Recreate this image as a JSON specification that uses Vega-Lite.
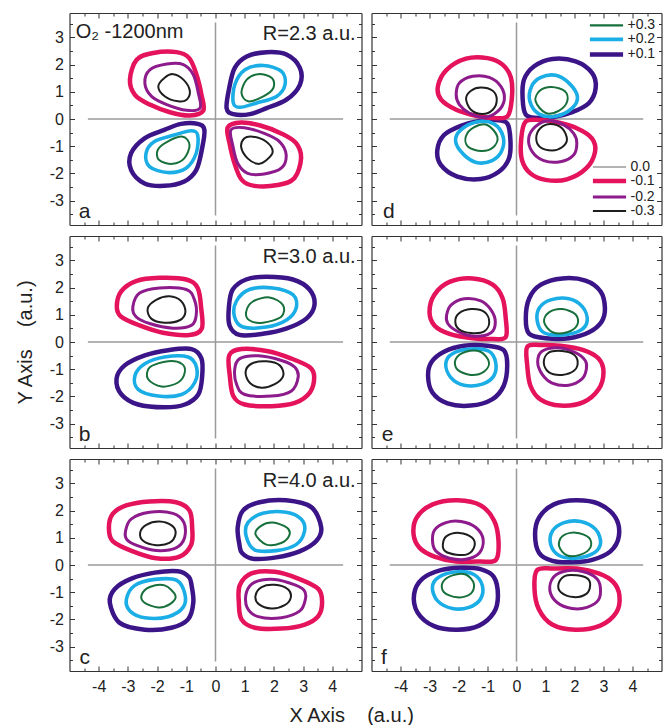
{
"$schema":"https://vega.github.io/schema/vega-lite/v6.json",
"background":"white",
"padding":{"left":14.5,"top":12,"right":1,"bottom":2},
"bounds":"flush",
"columns":2,
"spacing":{"row":11,"column":10},
"title":{"text":"X Axis\u00a0\u00a0\u00a0\u00a0(a.u.)","orient":"bottom","anchor":"middle","fontSize":20,"fontWeight":"normal","color":"#222","offset":9,"dx":13},
"datasets":{
"pos":[
{"p":"a","k":1,"l":"+0.1","x":0.38,"y":0.40},{"p":"a","k":1,"l":"+0.1","x":0.47,"y":1.14},{"p":"a","k":1,"l":"+0.1","x":0.66,"y":1.88},{"p":"a","k":1,"l":"+0.1","x":1.07,"y":2.30},{"p":"a","k":1,"l":"+0.1","x":1.75,"y":2.46},{"p":"a","k":1,"l":"+0.1","x":2.43,"y":2.37},{"p":"a","k":1,"l":"+0.1","x":2.89,"y":1.88},{"p":"a","k":1,"l":"+0.1","x":2.89,"y":1.26},{"p":"a","k":1,"l":"+0.1","x":2.43,"y":0.71},{"p":"a","k":1,"l":"+0.1","x":1.75,"y":0.40},{"p":"a","k":1,"l":"+0.1","x":1.18,"y":0.18},{"p":"a","k":1,"l":"+0.1","x":0.61,"y":0.18},
{"p":"a","k":2,"l":"+0.2","x":0.61,"y":0.59},{"p":"a","k":2,"l":"+0.2","x":0.66,"y":1.26},{"p":"a","k":2,"l":"+0.2","x":1.01,"y":1.81},{"p":"a","k":2,"l":"+0.2","x":1.64,"y":1.97},{"p":"a","k":2,"l":"+0.2","x":2.26,"y":1.75},{"p":"a","k":2,"l":"+0.2","x":2.38,"y":1.26},{"p":"a","k":2,"l":"+0.2","x":2.09,"y":0.83},{"p":"a","k":2,"l":"+0.2","x":1.41,"y":0.59},{"p":"a","k":2,"l":"+0.2","x":0.84,"y":0.43},
{"p":"a","k":3,"l":"+0.3","x":0.89,"y":0.96},{"p":"a","k":3,"l":"+0.3","x":1.07,"y":1.45},{"p":"a","k":3,"l":"+0.3","x":1.47,"y":1.65},{"p":"a","k":3,"l":"+0.3","x":1.93,"y":1.51},{"p":"a","k":3,"l":"+0.3","x":1.98,"y":1.14},{"p":"a","k":3,"l":"+0.3","x":1.64,"y":0.83},{"p":"a","k":3,"l":"+0.3","x":1.12,"y":0.65},
{"p":"a","k":4,"l":"+0.1","x":-0.38,"y":-0.40},{"p":"a","k":4,"l":"+0.1","x":-0.47,"y":-1.14},{"p":"a","k":4,"l":"+0.1","x":-0.66,"y":-1.88},{"p":"a","k":4,"l":"+0.1","x":-1.07,"y":-2.30},{"p":"a","k":4,"l":"+0.1","x":-1.75,"y":-2.46},{"p":"a","k":4,"l":"+0.1","x":-2.43,"y":-2.37},{"p":"a","k":4,"l":"+0.1","x":-2.89,"y":-1.88},{"p":"a","k":4,"l":"+0.1","x":-2.89,"y":-1.26},{"p":"a","k":4,"l":"+0.1","x":-2.43,"y":-0.71},{"p":"a","k":4,"l":"+0.1","x":-1.75,"y":-0.40},{"p":"a","k":4,"l":"+0.1","x":-1.18,"y":-0.18},{"p":"a","k":4,"l":"+0.1","x":-0.61,"y":-0.18},
{"p":"a","k":5,"l":"+0.2","x":-0.61,"y":-0.59},{"p":"a","k":5,"l":"+0.2","x":-0.66,"y":-1.26},{"p":"a","k":5,"l":"+0.2","x":-1.01,"y":-1.81},{"p":"a","k":5,"l":"+0.2","x":-1.64,"y":-1.97},{"p":"a","k":5,"l":"+0.2","x":-2.26,"y":-1.75},{"p":"a","k":5,"l":"+0.2","x":-2.38,"y":-1.26},{"p":"a","k":5,"l":"+0.2","x":-2.09,"y":-0.83},{"p":"a","k":5,"l":"+0.2","x":-1.41,"y":-0.59},{"p":"a","k":5,"l":"+0.2","x":-0.84,"y":-0.43},
{"p":"a","k":6,"l":"+0.3","x":-0.89,"y":-0.96},{"p":"a","k":6,"l":"+0.3","x":-1.07,"y":-1.45},{"p":"a","k":6,"l":"+0.3","x":-1.47,"y":-1.65},{"p":"a","k":6,"l":"+0.3","x":-1.93,"y":-1.51},{"p":"a","k":6,"l":"+0.3","x":-1.98,"y":-1.14},{"p":"a","k":6,"l":"+0.3","x":-1.64,"y":-0.83},{"p":"a","k":6,"l":"+0.3","x":-1.12,"y":-0.65},
{"p":"d","k":1,"l":"+0.1","x":0.32,"y":0.16},{"p":"d","k":1,"l":"+0.1","x":0.21,"y":0.77},{"p":"d","k":1,"l":"+0.1","x":0.26,"y":1.45},{"p":"d","k":1,"l":"+0.1","x":0.61,"y":1.94},{"p":"d","k":1,"l":"+0.1","x":1.24,"y":2.21},{"p":"d","k":1,"l":"+0.1","x":2.04,"y":2.12},{"p":"d","k":1,"l":"+0.1","x":2.61,"y":1.69},{"p":"d","k":1,"l":"+0.1","x":2.73,"y":1.14},{"p":"d","k":1,"l":"+0.1","x":2.50,"y":0.59},{"p":"d","k":1,"l":"+0.1","x":1.92,"y":0.25},{"p":"d","k":1,"l":"+0.1","x":1.24,"y":0.06},{"p":"d","k":1,"l":"+0.1","x":0.72,"y":0.04},
{"p":"d","k":2,"l":"+0.2","x":0.46,"y":0.65},{"p":"d","k":2,"l":"+0.2","x":0.52,"y":1.20},{"p":"d","k":2,"l":"+0.2","x":0.84,"y":1.53},{"p":"d","k":2,"l":"+0.2","x":1.35,"y":1.61},{"p":"d","k":2,"l":"+0.2","x":1.81,"y":1.32},{"p":"d","k":2,"l":"+0.2","x":2.10,"y":0.83},{"p":"d","k":2,"l":"+0.2","x":1.92,"y":0.40},{"p":"d","k":2,"l":"+0.2","x":1.35,"y":0.10},{"p":"d","k":2,"l":"+0.2","x":0.78,"y":0.18},
{"p":"d","k":3,"l":"+0.3","x":0.66,"y":0.65},{"p":"d","k":3,"l":"+0.3","x":0.80,"y":1.04},{"p":"d","k":3,"l":"+0.3","x":1.21,"y":1.18},{"p":"d","k":3,"l":"+0.3","x":1.67,"y":1.02},{"p":"d","k":3,"l":"+0.3","x":1.75,"y":0.65},{"p":"d","k":3,"l":"+0.3","x":1.47,"y":0.31},{"p":"d","k":3,"l":"+0.3","x":1.01,"y":0.22},
{"p":"d","k":4,"l":"+0.1","x":-0.32,"y":-0.16},{"p":"d","k":4,"l":"+0.1","x":-0.21,"y":-0.77},{"p":"d","k":4,"l":"+0.1","x":-0.26,"y":-1.45},{"p":"d","k":4,"l":"+0.1","x":-0.61,"y":-1.94},{"p":"d","k":4,"l":"+0.1","x":-1.24,"y":-2.21},{"p":"d","k":4,"l":"+0.1","x":-2.04,"y":-2.12},{"p":"d","k":4,"l":"+0.1","x":-2.61,"y":-1.69},{"p":"d","k":4,"l":"+0.1","x":-2.73,"y":-1.14},{"p":"d","k":4,"l":"+0.1","x":-2.50,"y":-0.59},{"p":"d","k":4,"l":"+0.1","x":-1.92,"y":-0.25},{"p":"d","k":4,"l":"+0.1","x":-1.24,"y":-0.06},{"p":"d","k":4,"l":"+0.1","x":-0.72,"y":-0.04},
{"p":"d","k":5,"l":"+0.2","x":-0.46,"y":-0.65},{"p":"d","k":5,"l":"+0.2","x":-0.52,"y":-1.20},{"p":"d","k":5,"l":"+0.2","x":-0.84,"y":-1.53},{"p":"d","k":5,"l":"+0.2","x":-1.35,"y":-1.61},{"p":"d","k":5,"l":"+0.2","x":-1.81,"y":-1.32},{"p":"d","k":5,"l":"+0.2","x":-2.10,"y":-0.83},{"p":"d","k":5,"l":"+0.2","x":-1.92,"y":-0.40},{"p":"d","k":5,"l":"+0.2","x":-1.35,"y":-0.10},{"p":"d","k":5,"l":"+0.2","x":-0.78,"y":-0.18},
{"p":"d","k":6,"l":"+0.3","x":-0.66,"y":-0.65},{"p":"d","k":6,"l":"+0.3","x":-0.80,"y":-1.04},{"p":"d","k":6,"l":"+0.3","x":-1.21,"y":-1.18},{"p":"d","k":6,"l":"+0.3","x":-1.67,"y":-1.02},{"p":"d","k":6,"l":"+0.3","x":-1.75,"y":-0.65},{"p":"d","k":6,"l":"+0.3","x":-1.47,"y":-0.31},{"p":"d","k":6,"l":"+0.3","x":-1.01,"y":-0.22},
{"p":"b","k":1,"l":"+0.1","x":0.48,"y":0.61},{"p":"b","k":1,"l":"+0.1","x":0.46,"y":1.30},{"p":"b","k":1,"l":"+0.1","x":0.59,"y":1.93},{"p":"b","k":1,"l":"+0.1","x":1.05,"y":2.30},{"p":"b","k":1,"l":"+0.1","x":1.74,"y":2.40},{"p":"b","k":1,"l":"+0.1","x":2.65,"y":2.30},{"p":"b","k":1,"l":"+0.1","x":3.22,"y":1.93},{"p":"b","k":1,"l":"+0.1","x":3.39,"y":1.36},{"p":"b","k":1,"l":"+0.1","x":3.11,"y":0.86},{"p":"b","k":1,"l":"+0.1","x":2.42,"y":0.49},{"p":"b","k":1,"l":"+0.1","x":1.62,"y":0.30},{"p":"b","k":1,"l":"+0.1","x":0.82,"y":0.26},
{"p":"b","k":2,"l":"+0.2","x":0.65,"y":0.93},{"p":"b","k":2,"l":"+0.2","x":0.71,"y":1.49},{"p":"b","k":2,"l":"+0.2","x":1.16,"y":1.93},{"p":"b","k":2,"l":"+0.2","x":1.96,"y":1.99},{"p":"b","k":2,"l":"+0.2","x":2.65,"y":1.74},{"p":"b","k":2,"l":"+0.2","x":2.76,"y":1.24},{"p":"b","k":2,"l":"+0.2","x":2.42,"y":0.80},{"p":"b","k":2,"l":"+0.2","x":1.74,"y":0.55},{"p":"b","k":2,"l":"+0.2","x":0.94,"y":0.55},
{"p":"b","k":3,"l":"+0.3","x":1.05,"y":1.11},{"p":"b","k":3,"l":"+0.3","x":1.28,"y":1.49},{"p":"b","k":3,"l":"+0.3","x":1.85,"y":1.64},{"p":"b","k":3,"l":"+0.3","x":2.31,"y":1.36},{"p":"b","k":3,"l":"+0.3","x":2.25,"y":0.93},{"p":"b","k":3,"l":"+0.3","x":1.62,"y":0.71},{"p":"b","k":3,"l":"+0.3","x":1.16,"y":0.80},
{"p":"b","k":4,"l":"+0.1","x":-0.48,"y":-0.61},{"p":"b","k":4,"l":"+0.1","x":-0.46,"y":-1.30},{"p":"b","k":4,"l":"+0.1","x":-0.59,"y":-1.93},{"p":"b","k":4,"l":"+0.1","x":-1.05,"y":-2.30},{"p":"b","k":4,"l":"+0.1","x":-1.74,"y":-2.40},{"p":"b","k":4,"l":"+0.1","x":-2.65,"y":-2.30},{"p":"b","k":4,"l":"+0.1","x":-3.22,"y":-1.93},{"p":"b","k":4,"l":"+0.1","x":-3.39,"y":-1.36},{"p":"b","k":4,"l":"+0.1","x":-3.11,"y":-0.86},{"p":"b","k":4,"l":"+0.1","x":-2.42,"y":-0.49},{"p":"b","k":4,"l":"+0.1","x":-1.62,"y":-0.30},{"p":"b","k":4,"l":"+0.1","x":-0.82,"y":-0.26},
{"p":"b","k":5,"l":"+0.2","x":-0.65,"y":-0.93},{"p":"b","k":5,"l":"+0.2","x":-0.71,"y":-1.49},{"p":"b","k":5,"l":"+0.2","x":-1.16,"y":-1.93},{"p":"b","k":5,"l":"+0.2","x":-1.96,"y":-1.99},{"p":"b","k":5,"l":"+0.2","x":-2.65,"y":-1.74},{"p":"b","k":5,"l":"+0.2","x":-2.76,"y":-1.24},{"p":"b","k":5,"l":"+0.2","x":-2.42,"y":-0.80},{"p":"b","k":5,"l":"+0.2","x":-1.74,"y":-0.55},{"p":"b","k":5,"l":"+0.2","x":-0.94,"y":-0.55},
{"p":"b","k":6,"l":"+0.3","x":-1.05,"y":-1.11},{"p":"b","k":6,"l":"+0.3","x":-1.28,"y":-1.49},{"p":"b","k":6,"l":"+0.3","x":-1.85,"y":-1.64},{"p":"b","k":6,"l":"+0.3","x":-2.31,"y":-1.36},{"p":"b","k":6,"l":"+0.3","x":-2.25,"y":-0.93},{"p":"b","k":6,"l":"+0.3","x":-1.62,"y":-0.71},{"p":"b","k":6,"l":"+0.3","x":-1.16,"y":-0.80},
{"p":"e","k":1,"l":"+0.1","x":0.44,"y":0.30},{"p":"e","k":1,"l":"+0.1","x":0.32,"y":0.86},{"p":"e","k":1,"l":"+0.1","x":0.44,"y":1.61},{"p":"e","k":1,"l":"+0.1","x":0.84,"y":2.11},{"p":"e","k":1,"l":"+0.1","x":1.58,"y":2.34},{"p":"e","k":1,"l":"+0.1","x":2.38,"y":2.26},{"p":"e","k":1,"l":"+0.1","x":2.90,"y":1.86},{"p":"e","k":1,"l":"+0.1","x":3.05,"y":1.24},{"p":"e","k":1,"l":"+0.1","x":2.93,"y":0.74},{"p":"e","k":1,"l":"+0.1","x":2.50,"y":0.36},{"p":"e","k":1,"l":"+0.1","x":1.81,"y":0.14},{"p":"e","k":1,"l":"+0.1","x":1.01,"y":0.14},
{"p":"e","k":2,"l":"+0.2","x":0.72,"y":0.74},{"p":"e","k":2,"l":"+0.2","x":0.78,"y":1.24},{"p":"e","k":2,"l":"+0.2","x":1.18,"y":1.55},{"p":"e","k":2,"l":"+0.2","x":1.81,"y":1.59},{"p":"e","k":2,"l":"+0.2","x":2.27,"y":1.30},{"p":"e","k":2,"l":"+0.2","x":2.44,"y":0.80},{"p":"e","k":2,"l":"+0.2","x":2.21,"y":0.43},{"p":"e","k":2,"l":"+0.2","x":1.58,"y":0.26},{"p":"e","k":2,"l":"+0.2","x":0.95,"y":0.34},
{"p":"e","k":3,"l":"+0.3","x":0.95,"y":0.74},{"p":"e","k":3,"l":"+0.3","x":1.12,"y":1.09},{"p":"e","k":3,"l":"+0.3","x":1.58,"y":1.21},{"p":"e","k":3,"l":"+0.3","x":2.04,"y":1.01},{"p":"e","k":3,"l":"+0.3","x":2.10,"y":0.64},{"p":"e","k":3,"l":"+0.3","x":1.75,"y":0.36},{"p":"e","k":3,"l":"+0.3","x":1.24,"y":0.36},
{"p":"e","k":4,"l":"+0.1","x":-0.44,"y":-0.30},{"p":"e","k":4,"l":"+0.1","x":-0.32,"y":-0.86},{"p":"e","k":4,"l":"+0.1","x":-0.44,"y":-1.61},{"p":"e","k":4,"l":"+0.1","x":-0.84,"y":-2.11},{"p":"e","k":4,"l":"+0.1","x":-1.58,"y":-2.34},{"p":"e","k":4,"l":"+0.1","x":-2.38,"y":-2.26},{"p":"e","k":4,"l":"+0.1","x":-2.90,"y":-1.86},{"p":"e","k":4,"l":"+0.1","x":-3.05,"y":-1.24},{"p":"e","k":4,"l":"+0.1","x":-2.93,"y":-0.74},{"p":"e","k":4,"l":"+0.1","x":-2.50,"y":-0.36},{"p":"e","k":4,"l":"+0.1","x":-1.81,"y":-0.14},{"p":"e","k":4,"l":"+0.1","x":-1.01,"y":-0.14},
{"p":"e","k":5,"l":"+0.2","x":-0.72,"y":-0.74},{"p":"e","k":5,"l":"+0.2","x":-0.78,"y":-1.24},{"p":"e","k":5,"l":"+0.2","x":-1.18,"y":-1.55},{"p":"e","k":5,"l":"+0.2","x":-1.81,"y":-1.59},{"p":"e","k":5,"l":"+0.2","x":-2.27,"y":-1.30},{"p":"e","k":5,"l":"+0.2","x":-2.44,"y":-0.80},{"p":"e","k":5,"l":"+0.2","x":-2.21,"y":-0.43},{"p":"e","k":5,"l":"+0.2","x":-1.58,"y":-0.26},{"p":"e","k":5,"l":"+0.2","x":-0.95,"y":-0.34},
{"p":"e","k":6,"l":"+0.3","x":-0.95,"y":-0.74},{"p":"e","k":6,"l":"+0.3","x":-1.12,"y":-1.09},{"p":"e","k":6,"l":"+0.3","x":-1.58,"y":-1.21},{"p":"e","k":6,"l":"+0.3","x":-2.04,"y":-1.01},{"p":"e","k":6,"l":"+0.3","x":-2.10,"y":-0.64},{"p":"e","k":6,"l":"+0.3","x":-1.75,"y":-0.36},{"p":"e","k":6,"l":"+0.3","x":-1.24,"y":-0.36},
{"p":"c","k":1,"l":"+0.1","x":0.82,"y":0.75},{"p":"c","k":1,"l":"+0.1","x":0.76,"y":1.38},{"p":"c","k":1,"l":"+0.1","x":0.94,"y":2.00},{"p":"c","k":1,"l":"+0.1","x":1.51,"y":2.31},{"p":"c","k":1,"l":"+0.1","x":2.42,"y":2.38},{"p":"c","k":1,"l":"+0.1","x":3.28,"y":2.13},{"p":"c","k":1,"l":"+0.1","x":3.62,"y":1.38},{"p":"c","k":1,"l":"+0.1","x":3.45,"y":0.88},{"p":"c","k":1,"l":"+0.1","x":2.88,"y":0.50},{"p":"c","k":1,"l":"+0.1","x":2.08,"y":0.28},{"p":"c","k":1,"l":"+0.1","x":1.28,"y":0.23},{"p":"c","k":1,"l":"+0.1","x":0.91,"y":0.44},
{"p":"c","k":2,"l":"+0.2","x":1.05,"y":1.06},{"p":"c","k":2,"l":"+0.2","x":1.11,"y":1.56},{"p":"c","k":2,"l":"+0.2","x":1.62,"y":1.90},{"p":"c","k":2,"l":"+0.2","x":2.42,"y":1.94},{"p":"c","k":2,"l":"+0.2","x":2.93,"y":1.69},{"p":"c","k":2,"l":"+0.2","x":3.05,"y":1.25},{"p":"c","k":2,"l":"+0.2","x":2.76,"y":0.75},{"p":"c","k":2,"l":"+0.2","x":2.08,"y":0.53},{"p":"c","k":2,"l":"+0.2","x":1.34,"y":0.56},
{"p":"c","k":3,"l":"+0.3","x":1.37,"y":1.13},{"p":"c","k":3,"l":"+0.3","x":1.56,"y":1.44},{"p":"c","k":3,"l":"+0.3","x":1.96,"y":1.56},{"p":"c","k":3,"l":"+0.3","x":2.44,"y":1.38},{"p":"c","k":3,"l":"+0.3","x":2.53,"y":1.10},{"p":"c","k":3,"l":"+0.3","x":2.25,"y":0.81},{"p":"c","k":3,"l":"+0.3","x":1.74,"y":0.75},
{"p":"c","k":4,"l":"+0.1","x":-0.82,"y":-0.75},{"p":"c","k":4,"l":"+0.1","x":-0.76,"y":-1.38},{"p":"c","k":4,"l":"+0.1","x":-0.94,"y":-2.00},{"p":"c","k":4,"l":"+0.1","x":-1.51,"y":-2.31},{"p":"c","k":4,"l":"+0.1","x":-2.42,"y":-2.38},{"p":"c","k":4,"l":"+0.1","x":-3.28,"y":-2.13},{"p":"c","k":4,"l":"+0.1","x":-3.62,"y":-1.38},{"p":"c","k":4,"l":"+0.1","x":-3.45,"y":-0.88},{"p":"c","k":4,"l":"+0.1","x":-2.88,"y":-0.50},{"p":"c","k":4,"l":"+0.1","x":-2.08,"y":-0.28},{"p":"c","k":4,"l":"+0.1","x":-1.28,"y":-0.23},{"p":"c","k":4,"l":"+0.1","x":-0.91,"y":-0.44},
{"p":"c","k":5,"l":"+0.2","x":-1.05,"y":-1.06},{"p":"c","k":5,"l":"+0.2","x":-1.11,"y":-1.56},{"p":"c","k":5,"l":"+0.2","x":-1.62,"y":-1.90},{"p":"c","k":5,"l":"+0.2","x":-2.42,"y":-1.94},{"p":"c","k":5,"l":"+0.2","x":-2.93,"y":-1.69},{"p":"c","k":5,"l":"+0.2","x":-3.05,"y":-1.25},{"p":"c","k":5,"l":"+0.2","x":-2.76,"y":-0.75},{"p":"c","k":5,"l":"+0.2","x":-2.08,"y":-0.53},{"p":"c","k":5,"l":"+0.2","x":-1.34,"y":-0.56},
{"p":"c","k":6,"l":"+0.3","x":-1.37,"y":-1.13},{"p":"c","k":6,"l":"+0.3","x":-1.56,"y":-1.44},{"p":"c","k":6,"l":"+0.3","x":-1.96,"y":-1.56},{"p":"c","k":6,"l":"+0.3","x":-2.44,"y":-1.38},{"p":"c","k":6,"l":"+0.3","x":-2.53,"y":-1.10},{"p":"c","k":6,"l":"+0.3","x":-2.25,"y":-0.81},{"p":"c","k":6,"l":"+0.3","x":-1.74,"y":-0.75},
{"p":"f","k":1,"l":"+0.1","x":0.78,"y":0.44},{"p":"f","k":1,"l":"+0.1","x":0.64,"y":1.13},{"p":"f","k":1,"l":"+0.1","x":0.78,"y":1.75},{"p":"f","k":1,"l":"+0.1","x":1.29,"y":2.23},{"p":"f","k":1,"l":"+0.1","x":2.04,"y":2.38},{"p":"f","k":1,"l":"+0.1","x":2.84,"y":2.25},{"p":"f","k":1,"l":"+0.1","x":3.41,"y":1.75},{"p":"f","k":1,"l":"+0.1","x":3.53,"y":1.06},{"p":"f","k":1,"l":"+0.1","x":3.24,"y":0.50},{"p":"f","k":1,"l":"+0.1","x":2.61,"y":0.19},{"p":"f","k":1,"l":"+0.1","x":1.92,"y":0.10},{"p":"f","k":1,"l":"+0.1","x":1.24,"y":0.15},
{"p":"f","k":2,"l":"+0.2","x":1.18,"y":0.75},{"p":"f","k":2,"l":"+0.2","x":1.24,"y":1.25},{"p":"f","k":2,"l":"+0.2","x":1.64,"y":1.56},{"p":"f","k":2,"l":"+0.2","x":2.21,"y":1.60},{"p":"f","k":2,"l":"+0.2","x":2.73,"y":1.31},{"p":"f","k":2,"l":"+0.2","x":2.90,"y":0.81},{"p":"f","k":2,"l":"+0.2","x":2.67,"y":0.44},{"p":"f","k":2,"l":"+0.2","x":2.04,"y":0.25},{"p":"f","k":2,"l":"+0.2","x":1.47,"y":0.35},
{"p":"f","k":3,"l":"+0.3","x":1.47,"y":0.69},{"p":"f","k":3,"l":"+0.3","x":1.58,"y":1.06},{"p":"f","k":3,"l":"+0.3","x":2.04,"y":1.19},{"p":"f","k":3,"l":"+0.3","x":2.50,"y":1.00},{"p":"f","k":3,"l":"+0.3","x":2.55,"y":0.65},{"p":"f","k":3,"l":"+0.3","x":2.21,"y":0.38},{"p":"f","k":3,"l":"+0.3","x":1.75,"y":0.35},
{"p":"f","k":4,"l":"+0.1","x":-0.78,"y":-0.44},{"p":"f","k":4,"l":"+0.1","x":-0.64,"y":-1.13},{"p":"f","k":4,"l":"+0.1","x":-0.78,"y":-1.75},{"p":"f","k":4,"l":"+0.1","x":-1.29,"y":-2.23},{"p":"f","k":4,"l":"+0.1","x":-2.04,"y":-2.38},{"p":"f","k":4,"l":"+0.1","x":-2.84,"y":-2.25},{"p":"f","k":4,"l":"+0.1","x":-3.41,"y":-1.75},{"p":"f","k":4,"l":"+0.1","x":-3.53,"y":-1.06},{"p":"f","k":4,"l":"+0.1","x":-3.24,"y":-0.50},{"p":"f","k":4,"l":"+0.1","x":-2.61,"y":-0.19},{"p":"f","k":4,"l":"+0.1","x":-1.92,"y":-0.10},{"p":"f","k":4,"l":"+0.1","x":-1.24,"y":-0.15},
{"p":"f","k":5,"l":"+0.2","x":-1.18,"y":-0.75},{"p":"f","k":5,"l":"+0.2","x":-1.24,"y":-1.25},{"p":"f","k":5,"l":"+0.2","x":-1.64,"y":-1.56},{"p":"f","k":5,"l":"+0.2","x":-2.21,"y":-1.60},{"p":"f","k":5,"l":"+0.2","x":-2.73,"y":-1.31},{"p":"f","k":5,"l":"+0.2","x":-2.90,"y":-0.81},{"p":"f","k":5,"l":"+0.2","x":-2.67,"y":-0.44},{"p":"f","k":5,"l":"+0.2","x":-2.04,"y":-0.25},{"p":"f","k":5,"l":"+0.2","x":-1.47,"y":-0.35},
{"p":"f","k":6,"l":"+0.3","x":-1.47,"y":-0.69},{"p":"f","k":6,"l":"+0.3","x":-1.58,"y":-1.06},{"p":"f","k":6,"l":"+0.3","x":-2.04,"y":-1.19},{"p":"f","k":6,"l":"+0.3","x":-2.50,"y":-1.00},{"p":"f","k":6,"l":"+0.3","x":-2.55,"y":-0.65},{"p":"f","k":6,"l":"+0.3","x":-2.21,"y":-0.38},{"p":"f","k":6,"l":"+0.3","x":-1.75,"y":-0.35}
],
"neg":[
{"p":"a","k":1,"l":"-0.1","x":-2.93,"y":1.45},{"p":"a","k":1,"l":"-0.1","x":-2.70,"y":2.18},{"p":"a","k":1,"l":"-0.1","x":-2.13,"y":2.43},{"p":"a","k":1,"l":"-0.1","x":-1.33,"y":2.46},{"p":"a","k":1,"l":"-0.1","x":-0.90,"y":2.24},{"p":"a","k":1,"l":"-0.1","x":-0.65,"y":1.63},{"p":"a","k":1,"l":"-0.1","x":-0.48,"y":0.89},{"p":"a","k":1,"l":"-0.1","x":-0.42,"y":0.31},{"p":"a","k":1,"l":"-0.1","x":-0.88,"y":0.13},{"p":"a","k":1,"l":"-0.1","x":-1.56,"y":0.25},{"p":"a","k":1,"l":"-0.1","x":-2.25,"y":0.53},{"p":"a","k":1,"l":"-0.1","x":-2.76,"y":0.89},
{"p":"a","k":2,"l":"-0.2","x":-2.42,"y":1.32},{"p":"a","k":2,"l":"-0.2","x":-2.25,"y":1.81},{"p":"a","k":2,"l":"-0.2","x":-1.67,"y":2.02},{"p":"a","k":2,"l":"-0.2","x":-1.10,"y":2.00},{"p":"a","k":2,"l":"-0.2","x":-0.76,"y":1.63},{"p":"a","k":2,"l":"-0.2","x":-0.59,"y":0.96},{"p":"a","k":2,"l":"-0.2","x":-0.53,"y":0.40},{"p":"a","k":2,"l":"-0.2","x":-0.99,"y":0.32},{"p":"a","k":2,"l":"-0.2","x":-1.67,"y":0.53},{"p":"a","k":2,"l":"-0.2","x":-2.19,"y":0.83},
{"p":"a","k":3,"l":"-0.3","x":-1.96,"y":1.20},{"p":"a","k":3,"l":"-0.3","x":-1.73,"y":1.53},{"p":"a","k":3,"l":"-0.3","x":-1.45,"y":1.65},{"p":"a","k":3,"l":"-0.3","x":-1.10,"y":1.45},{"p":"a","k":3,"l":"-0.3","x":-0.88,"y":1.04},{"p":"a","k":3,"l":"-0.3","x":-0.99,"y":0.71},{"p":"a","k":3,"l":"-0.3","x":-1.28,"y":0.65},{"p":"a","k":3,"l":"-0.3","x":-1.73,"y":0.83},
{"p":"a","k":4,"l":"-0.1","x":2.93,"y":-1.45},{"p":"a","k":4,"l":"-0.1","x":2.70,"y":-2.18},{"p":"a","k":4,"l":"-0.1","x":2.13,"y":-2.43},{"p":"a","k":4,"l":"-0.1","x":1.33,"y":-2.46},{"p":"a","k":4,"l":"-0.1","x":0.90,"y":-2.24},{"p":"a","k":4,"l":"-0.1","x":0.65,"y":-1.63},{"p":"a","k":4,"l":"-0.1","x":0.48,"y":-0.89},{"p":"a","k":4,"l":"-0.1","x":0.42,"y":-0.31},{"p":"a","k":4,"l":"-0.1","x":0.88,"y":-0.13},{"p":"a","k":4,"l":"-0.1","x":1.56,"y":-0.25},{"p":"a","k":4,"l":"-0.1","x":2.25,"y":-0.53},{"p":"a","k":4,"l":"-0.1","x":2.76,"y":-0.89},
{"p":"a","k":5,"l":"-0.2","x":2.42,"y":-1.32},{"p":"a","k":5,"l":"-0.2","x":2.25,"y":-1.81},{"p":"a","k":5,"l":"-0.2","x":1.67,"y":-2.02},{"p":"a","k":5,"l":"-0.2","x":1.10,"y":-2.00},{"p":"a","k":5,"l":"-0.2","x":0.76,"y":-1.63},{"p":"a","k":5,"l":"-0.2","x":0.59,"y":-0.96},{"p":"a","k":5,"l":"-0.2","x":0.53,"y":-0.40},{"p":"a","k":5,"l":"-0.2","x":0.99,"y":-0.32},{"p":"a","k":5,"l":"-0.2","x":1.67,"y":-0.53},{"p":"a","k":5,"l":"-0.2","x":2.19,"y":-0.83},
{"p":"a","k":6,"l":"-0.3","x":1.96,"y":-1.20},{"p":"a","k":6,"l":"-0.3","x":1.73,"y":-1.53},{"p":"a","k":6,"l":"-0.3","x":1.45,"y":-1.65},{"p":"a","k":6,"l":"-0.3","x":1.10,"y":-1.45},{"p":"a","k":6,"l":"-0.3","x":0.88,"y":-1.04},{"p":"a","k":6,"l":"-0.3","x":0.99,"y":-0.71},{"p":"a","k":6,"l":"-0.3","x":1.28,"y":-0.65},{"p":"a","k":6,"l":"-0.3","x":1.73,"y":-0.83},
{"p":"d","k":1,"l":"-0.1","x":-0.31,"y":0.10},{"p":"d","k":1,"l":"-0.1","x":-0.16,"y":0.77},{"p":"d","k":1,"l":"-0.1","x":-0.19,"y":1.51},{"p":"d","k":1,"l":"-0.1","x":-0.48,"y":2.00},{"p":"d","k":1,"l":"-0.1","x":-1.00,"y":2.24},{"p":"d","k":1,"l":"-0.1","x":-1.74,"y":2.22},{"p":"d","k":1,"l":"-0.1","x":-2.41,"y":1.81},{"p":"d","k":1,"l":"-0.1","x":-2.71,"y":1.20},{"p":"d","k":1,"l":"-0.1","x":-2.60,"y":0.71},{"p":"d","k":1,"l":"-0.1","x":-2.08,"y":0.34},{"p":"d","k":1,"l":"-0.1","x":-1.40,"y":0.12},{"p":"d","k":1,"l":"-0.1","x":-0.82,"y":0.04},
{"p":"d","k":2,"l":"-0.2","x":-2.08,"y":0.89},{"p":"d","k":2,"l":"-0.2","x":-1.97,"y":1.32},{"p":"d","k":2,"l":"-0.2","x":-1.51,"y":1.57},{"p":"d","k":2,"l":"-0.2","x":-0.94,"y":1.53},{"p":"d","k":2,"l":"-0.2","x":-0.54,"y":1.20},{"p":"d","k":2,"l":"-0.2","x":-0.42,"y":0.71},{"p":"d","k":2,"l":"-0.2","x":-0.65,"y":0.28},{"p":"d","k":2,"l":"-0.2","x":-1.11,"y":0.06},{"p":"d","k":2,"l":"-0.2","x":-1.63,"y":0.22},{"p":"d","k":2,"l":"-0.2","x":-1.97,"y":0.53},
{"p":"d","k":3,"l":"-0.3","x":-1.74,"y":0.75},{"p":"d","k":3,"l":"-0.3","x":-1.57,"y":1.04},{"p":"d","k":3,"l":"-0.3","x":-1.23,"y":1.16},{"p":"d","k":3,"l":"-0.3","x":-0.82,"y":1.04},{"p":"d","k":3,"l":"-0.3","x":-0.68,"y":0.71},{"p":"d","k":3,"l":"-0.3","x":-0.82,"y":0.34},{"p":"d","k":3,"l":"-0.3","x":-1.17,"y":0.18},{"p":"d","k":3,"l":"-0.3","x":-1.57,"y":0.34},
{"p":"d","k":4,"l":"-0.1","x":0.31,"y":-0.10},{"p":"d","k":4,"l":"-0.1","x":0.16,"y":-0.77},{"p":"d","k":4,"l":"-0.1","x":0.19,"y":-1.51},{"p":"d","k":4,"l":"-0.1","x":0.48,"y":-2.00},{"p":"d","k":4,"l":"-0.1","x":1.00,"y":-2.24},{"p":"d","k":4,"l":"-0.1","x":1.74,"y":-2.22},{"p":"d","k":4,"l":"-0.1","x":2.41,"y":-1.81},{"p":"d","k":4,"l":"-0.1","x":2.71,"y":-1.20},{"p":"d","k":4,"l":"-0.1","x":2.60,"y":-0.71},{"p":"d","k":4,"l":"-0.1","x":2.08,"y":-0.34},{"p":"d","k":4,"l":"-0.1","x":1.40,"y":-0.12},{"p":"d","k":4,"l":"-0.1","x":0.82,"y":-0.04},
{"p":"d","k":5,"l":"-0.2","x":2.08,"y":-0.89},{"p":"d","k":5,"l":"-0.2","x":1.97,"y":-1.32},{"p":"d","k":5,"l":"-0.2","x":1.51,"y":-1.57},{"p":"d","k":5,"l":"-0.2","x":0.94,"y":-1.53},{"p":"d","k":5,"l":"-0.2","x":0.54,"y":-1.20},{"p":"d","k":5,"l":"-0.2","x":0.42,"y":-0.71},{"p":"d","k":5,"l":"-0.2","x":0.65,"y":-0.28},{"p":"d","k":5,"l":"-0.2","x":1.11,"y":-0.06},{"p":"d","k":5,"l":"-0.2","x":1.63,"y":-0.22},{"p":"d","k":5,"l":"-0.2","x":1.97,"y":-0.53},
{"p":"d","k":6,"l":"-0.3","x":1.74,"y":-0.75},{"p":"d","k":6,"l":"-0.3","x":1.57,"y":-1.04},{"p":"d","k":6,"l":"-0.3","x":1.23,"y":-1.16},{"p":"d","k":6,"l":"-0.3","x":0.82,"y":-1.04},{"p":"d","k":6,"l":"-0.3","x":0.68,"y":-0.71},{"p":"d","k":6,"l":"-0.3","x":0.82,"y":-0.34},{"p":"d","k":6,"l":"-0.3","x":1.17,"y":-0.18},{"p":"d","k":6,"l":"-0.3","x":1.57,"y":-0.34},
{"p":"b","k":1,"l":"-0.1","x":-3.38,"y":1.30},{"p":"b","k":1,"l":"-0.1","x":-3.23,"y":1.86},{"p":"b","k":1,"l":"-0.1","x":-2.72,"y":2.24},{"p":"b","k":1,"l":"-0.1","x":-1.92,"y":2.36},{"p":"b","k":1,"l":"-0.1","x":-1.00,"y":2.30},{"p":"b","k":1,"l":"-0.1","x":-0.61,"y":1.99},{"p":"b","k":1,"l":"-0.1","x":-0.49,"y":1.24},{"p":"b","k":1,"l":"-0.1","x":-0.47,"y":0.49},{"p":"b","k":1,"l":"-0.1","x":-0.89,"y":0.26},{"p":"b","k":1,"l":"-0.1","x":-1.80,"y":0.34},{"p":"b","k":1,"l":"-0.1","x":-2.60,"y":0.61},{"p":"b","k":1,"l":"-0.1","x":-3.23,"y":0.93},
{"p":"b","k":2,"l":"-0.2","x":-2.83,"y":1.30},{"p":"b","k":2,"l":"-0.2","x":-2.60,"y":1.80},{"p":"b","k":2,"l":"-0.2","x":-1.92,"y":1.99},{"p":"b","k":2,"l":"-0.2","x":-1.00,"y":1.93},{"p":"b","k":2,"l":"-0.2","x":-0.72,"y":1.55},{"p":"b","k":2,"l":"-0.2","x":-0.66,"y":0.99},{"p":"b","k":2,"l":"-0.2","x":-0.83,"y":0.61},{"p":"b","k":2,"l":"-0.2","x":-1.46,"y":0.51},{"p":"b","k":2,"l":"-0.2","x":-2.26,"y":0.68},{"p":"b","k":2,"l":"-0.2","x":-2.72,"y":0.93},
{"p":"b","k":3,"l":"-0.3","x":-2.32,"y":1.24},{"p":"b","k":3,"l":"-0.3","x":-2.03,"y":1.55},{"p":"b","k":3,"l":"-0.3","x":-1.58,"y":1.68},{"p":"b","k":3,"l":"-0.3","x":-1.18,"y":1.51},{"p":"b","k":3,"l":"-0.3","x":-1.03,"y":1.11},{"p":"b","k":3,"l":"-0.3","x":-1.23,"y":0.80},{"p":"b","k":3,"l":"-0.3","x":-1.75,"y":0.71},{"p":"b","k":3,"l":"-0.3","x":-2.20,"y":0.86},
{"p":"b","k":4,"l":"-0.1","x":3.38,"y":-1.30},{"p":"b","k":4,"l":"-0.1","x":3.23,"y":-1.86},{"p":"b","k":4,"l":"-0.1","x":2.72,"y":-2.24},{"p":"b","k":4,"l":"-0.1","x":1.92,"y":-2.36},{"p":"b","k":4,"l":"-0.1","x":1.00,"y":-2.30},{"p":"b","k":4,"l":"-0.1","x":0.61,"y":-1.99},{"p":"b","k":4,"l":"-0.1","x":0.49,"y":-1.24},{"p":"b","k":4,"l":"-0.1","x":0.47,"y":-0.49},{"p":"b","k":4,"l":"-0.1","x":0.89,"y":-0.26},{"p":"b","k":4,"l":"-0.1","x":1.80,"y":-0.34},{"p":"b","k":4,"l":"-0.1","x":2.60,"y":-0.61},{"p":"b","k":4,"l":"-0.1","x":3.23,"y":-0.93},
{"p":"b","k":5,"l":"-0.2","x":2.83,"y":-1.30},{"p":"b","k":5,"l":"-0.2","x":2.60,"y":-1.80},{"p":"b","k":5,"l":"-0.2","x":1.92,"y":-1.99},{"p":"b","k":5,"l":"-0.2","x":1.00,"y":-1.93},{"p":"b","k":5,"l":"-0.2","x":0.72,"y":-1.55},{"p":"b","k":5,"l":"-0.2","x":0.66,"y":-0.99},{"p":"b","k":5,"l":"-0.2","x":0.83,"y":-0.61},{"p":"b","k":5,"l":"-0.2","x":1.46,"y":-0.51},{"p":"b","k":5,"l":"-0.2","x":2.26,"y":-0.68},{"p":"b","k":5,"l":"-0.2","x":2.72,"y":-0.93},
{"p":"b","k":6,"l":"-0.3","x":2.32,"y":-1.24},{"p":"b","k":6,"l":"-0.3","x":2.03,"y":-1.55},{"p":"b","k":6,"l":"-0.3","x":1.58,"y":-1.68},{"p":"b","k":6,"l":"-0.3","x":1.18,"y":-1.51},{"p":"b","k":6,"l":"-0.3","x":1.03,"y":-1.11},{"p":"b","k":6,"l":"-0.3","x":1.23,"y":-0.80},{"p":"b","k":6,"l":"-0.3","x":1.75,"y":-0.71},{"p":"b","k":6,"l":"-0.3","x":2.20,"y":-0.86},
{"p":"e","k":1,"l":"-0.1","x":-0.37,"y":0.18},{"p":"e","k":1,"l":"-0.1","x":-0.37,"y":0.86},{"p":"e","k":1,"l":"-0.1","x":-0.48,"y":1.61},{"p":"e","k":1,"l":"-0.1","x":-0.82,"y":2.11},{"p":"e","k":1,"l":"-0.1","x":-1.51,"y":2.34},{"p":"e","k":1,"l":"-0.1","x":-2.31,"y":2.21},{"p":"e","k":1,"l":"-0.1","x":-2.83,"y":1.74},{"p":"e","k":1,"l":"-0.1","x":-3.00,"y":1.11},{"p":"e","k":1,"l":"-0.1","x":-2.83,"y":0.61},{"p":"e","k":1,"l":"-0.1","x":-2.31,"y":0.30},{"p":"e","k":1,"l":"-0.1","x":-1.51,"y":0.14},{"p":"e","k":1,"l":"-0.1","x":-0.82,"y":0.11},
{"p":"e","k":2,"l":"-0.2","x":-2.41,"y":0.99},{"p":"e","k":2,"l":"-0.2","x":-2.26,"y":1.36},{"p":"e","k":2,"l":"-0.2","x":-1.80,"y":1.59},{"p":"e","k":2,"l":"-0.2","x":-1.23,"y":1.51},{"p":"e","k":2,"l":"-0.2","x":-0.88,"y":1.18},{"p":"e","k":2,"l":"-0.2","x":-0.73,"y":0.74},{"p":"e","k":2,"l":"-0.2","x":-0.88,"y":0.34},{"p":"e","k":2,"l":"-0.2","x":-1.45,"y":0.21},{"p":"e","k":2,"l":"-0.2","x":-2.03,"y":0.39},{"p":"e","k":2,"l":"-0.2","x":-2.37,"y":0.68},
{"p":"e","k":3,"l":"-0.3","x":-2.11,"y":0.74},{"p":"e","k":3,"l":"-0.3","x":-1.99,"y":1.05},{"p":"e","k":3,"l":"-0.3","x":-1.57,"y":1.21},{"p":"e","k":3,"l":"-0.3","x":-1.11,"y":1.11},{"p":"e","k":3,"l":"-0.3","x":-0.94,"y":0.74},{"p":"e","k":3,"l":"-0.3","x":-1.11,"y":0.39},{"p":"e","k":3,"l":"-0.3","x":-1.57,"y":0.33},{"p":"e","k":3,"l":"-0.3","x":-1.97,"y":0.46},
{"p":"e","k":4,"l":"-0.1","x":0.37,"y":-0.18},{"p":"e","k":4,"l":"-0.1","x":0.37,"y":-0.86},{"p":"e","k":4,"l":"-0.1","x":0.48,"y":-1.61},{"p":"e","k":4,"l":"-0.1","x":0.82,"y":-2.11},{"p":"e","k":4,"l":"-0.1","x":1.51,"y":-2.34},{"p":"e","k":4,"l":"-0.1","x":2.31,"y":-2.21},{"p":"e","k":4,"l":"-0.1","x":2.83,"y":-1.74},{"p":"e","k":4,"l":"-0.1","x":3.00,"y":-1.11},{"p":"e","k":4,"l":"-0.1","x":2.83,"y":-0.61},{"p":"e","k":4,"l":"-0.1","x":2.31,"y":-0.30},{"p":"e","k":4,"l":"-0.1","x":1.51,"y":-0.14},{"p":"e","k":4,"l":"-0.1","x":0.82,"y":-0.11},
{"p":"e","k":5,"l":"-0.2","x":2.41,"y":-0.99},{"p":"e","k":5,"l":"-0.2","x":2.26,"y":-1.36},{"p":"e","k":5,"l":"-0.2","x":1.80,"y":-1.59},{"p":"e","k":5,"l":"-0.2","x":1.23,"y":-1.51},{"p":"e","k":5,"l":"-0.2","x":0.88,"y":-1.18},{"p":"e","k":5,"l":"-0.2","x":0.73,"y":-0.74},{"p":"e","k":5,"l":"-0.2","x":0.88,"y":-0.34},{"p":"e","k":5,"l":"-0.2","x":1.45,"y":-0.21},{"p":"e","k":5,"l":"-0.2","x":2.03,"y":-0.39},{"p":"e","k":5,"l":"-0.2","x":2.37,"y":-0.68},
{"p":"e","k":6,"l":"-0.3","x":2.11,"y":-0.74},{"p":"e","k":6,"l":"-0.3","x":1.99,"y":-1.05},{"p":"e","k":6,"l":"-0.3","x":1.57,"y":-1.21},{"p":"e","k":6,"l":"-0.3","x":1.11,"y":-1.11},{"p":"e","k":6,"l":"-0.3","x":0.94,"y":-0.74},{"p":"e","k":6,"l":"-0.3","x":1.11,"y":-0.39},{"p":"e","k":6,"l":"-0.3","x":1.57,"y":-0.33},{"p":"e","k":6,"l":"-0.3","x":1.97,"y":-0.46},
{"p":"c","k":1,"l":"-0.1","x":-3.65,"y":1.38},{"p":"c","k":1,"l":"-0.1","x":-3.52,"y":1.88},{"p":"c","k":1,"l":"-0.1","x":-3.06,"y":2.19},{"p":"c","k":1,"l":"-0.1","x":-2.26,"y":2.34},{"p":"c","k":1,"l":"-0.1","x":-1.35,"y":2.31},{"p":"c","k":1,"l":"-0.1","x":-0.89,"y":2.00},{"p":"c","k":1,"l":"-0.1","x":-0.80,"y":1.38},{"p":"c","k":1,"l":"-0.1","x":-0.83,"y":0.75},{"p":"c","k":1,"l":"-0.1","x":-1.23,"y":0.31},{"p":"c","k":1,"l":"-0.1","x":-2.03,"y":0.25},{"p":"c","k":1,"l":"-0.1","x":-2.83,"y":0.50},{"p":"c","k":1,"l":"-0.1","x":-3.52,"y":0.88},
{"p":"c","k":2,"l":"-0.2","x":-3.08,"y":1.25},{"p":"c","k":2,"l":"-0.2","x":-2.89,"y":1.69},{"p":"c","k":2,"l":"-0.2","x":-2.26,"y":1.94},{"p":"c","k":2,"l":"-0.2","x":-1.46,"y":1.90},{"p":"c","k":2,"l":"-0.2","x":-1.08,"y":1.56},{"p":"c","k":2,"l":"-0.2","x":-1.06,"y":1.00},{"p":"c","k":2,"l":"-0.2","x":-1.35,"y":0.63},{"p":"c","k":2,"l":"-0.2","x":-2.03,"y":0.53},{"p":"c","k":2,"l":"-0.2","x":-2.72,"y":0.73},{"p":"c","k":2,"l":"-0.2","x":-3.04,"y":0.94},
{"p":"c","k":3,"l":"-0.3","x":-2.58,"y":1.19},{"p":"c","k":3,"l":"-0.3","x":-2.37,"y":1.48},{"p":"c","k":3,"l":"-0.3","x":-1.92,"y":1.60},{"p":"c","k":3,"l":"-0.3","x":-1.48,"y":1.44},{"p":"c","k":3,"l":"-0.3","x":-1.37,"y":1.13},{"p":"c","k":3,"l":"-0.3","x":-1.58,"y":0.81},{"p":"c","k":3,"l":"-0.3","x":-2.03,"y":0.73},{"p":"c","k":3,"l":"-0.3","x":-2.47,"y":0.88},
{"p":"c","k":4,"l":"-0.1","x":3.65,"y":-1.38},{"p":"c","k":4,"l":"-0.1","x":3.52,"y":-1.88},{"p":"c","k":4,"l":"-0.1","x":3.06,"y":-2.19},{"p":"c","k":4,"l":"-0.1","x":2.26,"y":-2.34},{"p":"c","k":4,"l":"-0.1","x":1.35,"y":-2.31},{"p":"c","k":4,"l":"-0.1","x":0.89,"y":-2.00},{"p":"c","k":4,"l":"-0.1","x":0.80,"y":-1.38},{"p":"c","k":4,"l":"-0.1","x":0.83,"y":-0.75},{"p":"c","k":4,"l":"-0.1","x":1.23,"y":-0.31},{"p":"c","k":4,"l":"-0.1","x":2.03,"y":-0.25},{"p":"c","k":4,"l":"-0.1","x":2.83,"y":-0.50},{"p":"c","k":4,"l":"-0.1","x":3.52,"y":-0.88},
{"p":"c","k":5,"l":"-0.2","x":3.08,"y":-1.25},{"p":"c","k":5,"l":"-0.2","x":2.89,"y":-1.69},{"p":"c","k":5,"l":"-0.2","x":2.26,"y":-1.94},{"p":"c","k":5,"l":"-0.2","x":1.46,"y":-1.90},{"p":"c","k":5,"l":"-0.2","x":1.08,"y":-1.56},{"p":"c","k":5,"l":"-0.2","x":1.06,"y":-1.00},{"p":"c","k":5,"l":"-0.2","x":1.35,"y":-0.63},{"p":"c","k":5,"l":"-0.2","x":2.03,"y":-0.53},{"p":"c","k":5,"l":"-0.2","x":2.72,"y":-0.73},{"p":"c","k":5,"l":"-0.2","x":3.04,"y":-0.94},
{"p":"c","k":6,"l":"-0.3","x":2.58,"y":-1.19},{"p":"c","k":6,"l":"-0.3","x":2.37,"y":-1.48},{"p":"c","k":6,"l":"-0.3","x":1.92,"y":-1.60},{"p":"c","k":6,"l":"-0.3","x":1.48,"y":-1.44},{"p":"c","k":6,"l":"-0.3","x":1.37,"y":-1.13},{"p":"c","k":6,"l":"-0.3","x":1.58,"y":-0.81},{"p":"c","k":6,"l":"-0.3","x":2.03,"y":-0.73},{"p":"c","k":6,"l":"-0.3","x":2.47,"y":-0.88},
{"p":"f","k":1,"l":"-0.1","x":-0.71,"y":0.19},{"p":"f","k":1,"l":"-0.1","x":-0.62,"y":0.88},{"p":"f","k":1,"l":"-0.1","x":-0.77,"y":1.63},{"p":"f","k":1,"l":"-0.1","x":-1.23,"y":2.19},{"p":"f","k":1,"l":"-0.1","x":-2.03,"y":2.38},{"p":"f","k":1,"l":"-0.1","x":-2.89,"y":2.23},{"p":"f","k":1,"l":"-0.1","x":-3.44,"y":1.75},{"p":"f","k":1,"l":"-0.1","x":-3.55,"y":1.13},{"p":"f","k":1,"l":"-0.1","x":-3.34,"y":0.63},{"p":"f","k":1,"l":"-0.1","x":-2.83,"y":0.31},{"p":"f","k":1,"l":"-0.1","x":-2.08,"y":0.13},{"p":"f","k":1,"l":"-0.1","x":-1.28,"y":0.13},
{"p":"f","k":2,"l":"-0.2","x":-2.89,"y":0.81},{"p":"f","k":2,"l":"-0.2","x":-2.83,"y":1.28},{"p":"f","k":2,"l":"-0.2","x":-2.43,"y":1.56},{"p":"f","k":2,"l":"-0.2","x":-1.91,"y":1.60},{"p":"f","k":2,"l":"-0.2","x":-1.40,"y":1.38},{"p":"f","k":2,"l":"-0.2","x":-1.15,"y":0.94},{"p":"f","k":2,"l":"-0.2","x":-1.28,"y":0.44},{"p":"f","k":2,"l":"-0.2","x":-1.74,"y":0.21},{"p":"f","k":2,"l":"-0.2","x":-2.31,"y":0.25},{"p":"f","k":2,"l":"-0.2","x":-2.75,"y":0.48},
{"p":"f","k":3,"l":"-0.3","x":-2.54,"y":0.75},{"p":"f","k":3,"l":"-0.3","x":-2.41,"y":1.06},{"p":"f","k":3,"l":"-0.3","x":-1.97,"y":1.18},{"p":"f","k":3,"l":"-0.3","x":-1.53,"y":1.00},{"p":"f","k":3,"l":"-0.3","x":-1.45,"y":0.69},{"p":"f","k":3,"l":"-0.3","x":-1.68,"y":0.40},{"p":"f","k":3,"l":"-0.3","x":-2.08,"y":0.38},{"p":"f","k":3,"l":"-0.3","x":-2.45,"y":0.50},
{"p":"f","k":4,"l":"-0.1","x":0.71,"y":-0.19},{"p":"f","k":4,"l":"-0.1","x":0.62,"y":-0.88},{"p":"f","k":4,"l":"-0.1","x":0.77,"y":-1.63},{"p":"f","k":4,"l":"-0.1","x":1.23,"y":-2.19},{"p":"f","k":4,"l":"-0.1","x":2.03,"y":-2.38},{"p":"f","k":4,"l":"-0.1","x":2.89,"y":-2.23},{"p":"f","k":4,"l":"-0.1","x":3.44,"y":-1.75},{"p":"f","k":4,"l":"-0.1","x":3.55,"y":-1.13},{"p":"f","k":4,"l":"-0.1","x":3.34,"y":-0.63},{"p":"f","k":4,"l":"-0.1","x":2.83,"y":-0.31},{"p":"f","k":4,"l":"-0.1","x":2.08,"y":-0.13},{"p":"f","k":4,"l":"-0.1","x":1.28,"y":-0.13},
{"p":"f","k":5,"l":"-0.2","x":2.89,"y":-0.81},{"p":"f","k":5,"l":"-0.2","x":2.83,"y":-1.28},{"p":"f","k":5,"l":"-0.2","x":2.43,"y":-1.56},{"p":"f","k":5,"l":"-0.2","x":1.91,"y":-1.60},{"p":"f","k":5,"l":"-0.2","x":1.40,"y":-1.38},{"p":"f","k":5,"l":"-0.2","x":1.15,"y":-0.94},{"p":"f","k":5,"l":"-0.2","x":1.28,"y":-0.44},{"p":"f","k":5,"l":"-0.2","x":1.74,"y":-0.21},{"p":"f","k":5,"l":"-0.2","x":2.31,"y":-0.25},{"p":"f","k":5,"l":"-0.2","x":2.75,"y":-0.48},
{"p":"f","k":6,"l":"-0.3","x":2.54,"y":-0.75},{"p":"f","k":6,"l":"-0.3","x":2.41,"y":-1.06},{"p":"f","k":6,"l":"-0.3","x":1.97,"y":-1.18},{"p":"f","k":6,"l":"-0.3","x":1.53,"y":-1.00},{"p":"f","k":6,"l":"-0.3","x":1.45,"y":-0.69},{"p":"f","k":6,"l":"-0.3","x":1.68,"y":-0.40},{"p":"f","k":6,"l":"-0.3","x":2.08,"y":-0.38},{"p":"f","k":6,"l":"-0.3","x":2.45,"y":-0.50}
]
},
"concat":[
{"width":292,"height":212,"layer":[
{"data":{"values":[{}]},"mark":{"type":"rule","color":"#9a9a9a","strokeWidth":1.5},"encoding":{"x":{"datum":-4.37,"type":"quantitative","scale":{"domain":[-5,5],"nice":false,"zero":false},"axis":{"orient":"bottom","title":null,"values":[-4.5,-4,-3.5,-3,-2.5,-2,-1.5,-1,-0.5,0,0.5,1,1.5,2,2.5,3,3.5,4,4.5],"tickSize":{"condition":{"test":"datum.value % 1 == 0","value":-5},"value":-3},"labels":false}},"x2":{"datum":4.37},"y":{"datum":0,"type":"quantitative","scale":{"domain":[-3.9,3.9],"nice":false,"zero":false},"axis":{"orient":"left","title":null,"values":[-3.5,-3,-2.5,-2,-1.5,-1,-0.5,0,0.5,1,1.5,2,2.5,3,3.5],"tickSize":{"condition":{"test":"datum.value % 1 == 0","value":-5},"value":-3},"labelExpr":"datum.value % 1 == 0 ? (datum.value < 0 ? '-' + abs(datum.value) : '' + datum.value) : ''","labelPadding":11}}}},
{"data":{"values":[{}]},"mark":{"type":"rule","color":"#9a9a9a","strokeWidth":1.5},"encoding":{"x":{"datum":0,"type":"quantitative","axis":{"orient":"top","title":null,"values":[-4.5,-4,-3.5,-3,-2.5,-2,-1.5,-1,-0.5,0,0.5,1,1.5,2,2.5,3,3.5,4,4.5],"tickSize":{"condition":{"test":"datum.value % 1 == 0","value":-5},"value":-3},"labels":false}},"y":{"datum":3.55,"type":"quantitative","axis":{"orient":"right","title":null,"values":[-3.5,-3,-2.5,-2,-1.5,-1,-0.5,0,0.5,1,1.5,2,2.5,3,3.5],"tickSize":{"condition":{"test":"datum.value % 1 == 0","value":-5},"value":-3},"labels":false}},"y2":{"datum":-3.55}}},
{"data":{"name":"pos"},"transform":[{"filter":"datum.p=='a'"}],"mark":{"type":"line","interpolate":"cardinal-closed"},"encoding":{"x":{"field":"x","type":"quantitative","axis":null},"y":{"field":"y","type":"quantitative","axis":null},"color":{"field":"l","type":"nominal","scale":{"domain":["+0.3","+0.2","+0.1"],"range":["#17703c","#1badE5","#3b1587"]},"legend":{"title":null,"orient":"none","legendX":530,"legendY":5.4,"direction":"vertical","padding":0,"symbolType":"stroke","symbolSize":1100,"symbolStrokeWidth":3.5,"labelFontSize":14,"labelColor":"#222","labelOffset":14,"rowPadding":-5,"encode":{"symbols":{"update":{"strokeWidth":{"signal":"datum.value=='+0.1' ? 4.5 : datum.value=='+0.2' ? 3.6 : 2.2"}}}}}},"detail":{"field":"k"},"order":{"value":null},"strokeWidth":{"condition":[{"test":"datum.l=='+0.1'","value":4.5},{"test":"datum.l=='+0.2'","value":3.6}],"value":2}}},
{"data":{"name":"neg"},"transform":[{"filter":"datum.p=='a'"}],"mark":{"type":"line","interpolate":"cardinal-closed"},"encoding":{"x":{"field":"x","type":"quantitative","axis":null},"y":{"field":"y","type":"quantitative","axis":null},"stroke":{"field":"l","type":"nominal","scale":{"domain":["0.0","-0.1","-0.2","-0.3"],"range":["#9a9a9a","#e4135b","#8d1b8b","#1e1e1e"]},"legend":{"title":null,"orient":"none","legendX":533,"legendY":147,"direction":"vertical","padding":0,"symbolType":"stroke","symbolSize":1100,"symbolStrokeWidth":3.5,"labelFontSize":14,"labelColor":"#222","labelOffset":14,"rowPadding":-5,"encode":{"symbols":{"update":{"strokeWidth":{"signal":"datum.value=='-0.1' ? 4.5 : datum.value=='-0.2' ? 3 : datum.value=='0.0' ? 1.5 : 2.2"}}}}}},"detail":{"field":"k"},"order":{"value":null},"strokeWidth":{"condition":[{"test":"datum.l=='-0.1'","value":4.5},{"test":"datum.l=='-0.2'","value":3}],"value":2}}},
{"data":{"values":[{}]},"mark":{"type":"text","align":"left","baseline":"middle","fontSize":20,"color":"#222"},"encoding":{"x":{"datum":-4.79,"type":"quantitative","axis":null},"y":{"datum":3.19,"type":"quantitative","axis":null},"text":{"value":"O₂ -1200nm"}}},
{"data":{"values":[{}]},"mark":{"type":"text","align":"right","baseline":"middle","fontSize":20,"color":"#222"},"encoding":{"x":{"datum":4.8,"type":"quantitative","axis":null},"y":{"datum":3.14,"type":"quantitative","axis":null},"text":{"value":"R=2.3 a.u."}}},
{"data":{"values":[{}]},"mark":{"type":"text","align":"left","baseline":"middle","fontSize":21,"color":"#222"},"encoding":{"x":{"datum":-4.68,"type":"quantitative","axis":null},"y":{"datum":-3.42,"type":"quantitative","axis":null},"text":{"value":"a"}}}
],"resolve":{"axis":{"x":"independent","y":"independent"}}},
{"width":290,"height":212,"layer":[
{"data":{"values":[{}]},"mark":{"type":"rule","color":"#9a9a9a","strokeWidth":1.5},"encoding":{"x":{"datum":-4.37,"type":"quantitative","scale":{"domain":[-5,5],"nice":false,"zero":false},"axis":{"orient":"bottom","title":null,"values":[-4.5,-4,-3.5,-3,-2.5,-2,-1.5,-1,-0.5,0,0.5,1,1.5,2,2.5,3,3.5,4,4.5],"tickSize":{"condition":{"test":"datum.value % 1 == 0","value":-5},"value":-3},"labels":false}},"x2":{"datum":4.37},"y":{"datum":0,"type":"quantitative","scale":{"domain":[-3.9,3.9],"nice":false,"zero":false},"axis":{"orient":"left","title":null,"values":[-3.5,-3,-2.5,-2,-1.5,-1,-0.5,0,0.5,1,1.5,2,2.5,3,3.5],"tickSize":{"condition":{"test":"datum.value % 1 == 0","value":-5},"value":-3},"labels":false}}}},
{"data":{"values":[{}]},"mark":{"type":"rule","color":"#9a9a9a","strokeWidth":1.5},"encoding":{"x":{"datum":0,"type":"quantitative","axis":{"orient":"top","title":null,"values":[-4.5,-4,-3.5,-3,-2.5,-2,-1.5,-1,-0.5,0,0.5,1,1.5,2,2.5,3,3.5,4,4.5],"tickSize":{"condition":{"test":"datum.value % 1 == 0","value":-5},"value":-3},"labels":false}},"y":{"datum":3.55,"type":"quantitative","axis":{"orient":"right","title":null,"values":[-3.5,-3,-2.5,-2,-1.5,-1,-0.5,0,0.5,1,1.5,2,2.5,3,3.5],"tickSize":{"condition":{"test":"datum.value % 1 == 0","value":-5},"value":-3},"labels":false}},"y2":{"datum":-3.55}}},
{"data":{"name":"pos"},"transform":[{"filter":"datum.p=='d'"}],"mark":{"type":"line","interpolate":"cardinal-closed"},"encoding":{"x":{"field":"x","type":"quantitative","axis":null},"y":{"field":"y","type":"quantitative","axis":null},"color":{"field":"l","type":"nominal","scale":{"domain":["+0.3","+0.2","+0.1"],"range":["#17703c","#1badE5","#3b1587"]},"legend":{"title":null,"orient":"none","legendX":530,"legendY":5.4,"direction":"vertical","padding":0,"symbolType":"stroke","symbolSize":1100,"symbolStrokeWidth":3.5,"labelFontSize":14,"labelColor":"#222","labelOffset":14,"rowPadding":-5,"encode":{"symbols":{"update":{"strokeWidth":{"signal":"datum.value=='+0.1' ? 4.5 : datum.value=='+0.2' ? 3.6 : 2.2"}}}}}},"detail":{"field":"k"},"order":{"value":null},"strokeWidth":{"condition":[{"test":"datum.l=='+0.1'","value":4.5},{"test":"datum.l=='+0.2'","value":3.6}],"value":2}}},
{"data":{"name":"neg"},"transform":[{"filter":"datum.p=='d'"}],"mark":{"type":"line","interpolate":"cardinal-closed"},"encoding":{"x":{"field":"x","type":"quantitative","axis":null},"y":{"field":"y","type":"quantitative","axis":null},"stroke":{"field":"l","type":"nominal","scale":{"domain":["0.0","-0.1","-0.2","-0.3"],"range":["#9a9a9a","#e4135b","#8d1b8b","#1e1e1e"]},"legend":{"title":null,"orient":"none","legendX":533,"legendY":147,"direction":"vertical","padding":0,"symbolType":"stroke","symbolSize":1100,"symbolStrokeWidth":3.5,"labelFontSize":14,"labelColor":"#222","labelOffset":14,"rowPadding":-5,"encode":{"symbols":{"update":{"strokeWidth":{"signal":"datum.value=='-0.1' ? 4.5 : datum.value=='-0.2' ? 3 : datum.value=='0.0' ? 1.5 : 2.2"}}}}}},"detail":{"field":"k"},"order":{"value":null},"strokeWidth":{"condition":[{"test":"datum.l=='-0.1'","value":4.5},{"test":"datum.l=='-0.2'","value":3}],"value":2}}},
{"data":{"values":[{}]},"mark":{"type":"text","align":"left","baseline":"middle","fontSize":21,"color":"#222"},"encoding":{"x":{"datum":-4.6,"type":"quantitative","axis":null},"y":{"datum":-3.42,"type":"quantitative","axis":null},"text":{"value":"d"}}}
],"resolve":{"axis":{"x":"independent","y":"independent"}}},
{"width":292,"height":212,"layer":[
{"data":{"values":[{}]},"mark":{"type":"rule","color":"#9a9a9a","strokeWidth":1.5},"encoding":{"x":{"datum":-4.37,"type":"quantitative","scale":{"domain":[-5,5],"nice":false,"zero":false},"axis":{"orient":"bottom","title":null,"values":[-4.5,-4,-3.5,-3,-2.5,-2,-1.5,-1,-0.5,0,0.5,1,1.5,2,2.5,3,3.5,4,4.5],"tickSize":{"condition":{"test":"datum.value % 1 == 0","value":-5},"value":-3},"labels":false}},"x2":{"datum":4.37},"y":{"datum":0,"type":"quantitative","scale":{"domain":[-3.9,3.9],"nice":false,"zero":false},"axis":{"orient":"left","title":"Y Axis\u00a0\u00a0\u00a0\u00a0(a.u.)","titleFontSize":20,"titleFontWeight":"normal","titleColor":"#222","titlePadding":14,"values":[-3.5,-3,-2.5,-2,-1.5,-1,-0.5,0,0.5,1,1.5,2,2.5,3,3.5],"tickSize":{"condition":{"test":"datum.value % 1 == 0","value":-5},"value":-3},"labelExpr":"datum.value % 1 == 0 ? (datum.value < 0 ? '-' + abs(datum.value) : '' + datum.value) : ''","labelPadding":11}}}},
{"data":{"values":[{}]},"mark":{"type":"rule","color":"#9a9a9a","strokeWidth":1.5},"encoding":{"x":{"datum":0,"type":"quantitative","axis":{"orient":"top","title":null,"values":[-4.5,-4,-3.5,-3,-2.5,-2,-1.5,-1,-0.5,0,0.5,1,1.5,2,2.5,3,3.5,4,4.5],"tickSize":{"condition":{"test":"datum.value % 1 == 0","value":-5},"value":-3},"labels":false}},"y":{"datum":3.55,"type":"quantitative","axis":{"orient":"right","title":null,"values":[-3.5,-3,-2.5,-2,-1.5,-1,-0.5,0,0.5,1,1.5,2,2.5,3,3.5],"tickSize":{"condition":{"test":"datum.value % 1 == 0","value":-5},"value":-3},"labels":false}},"y2":{"datum":-3.55}}},
{"data":{"name":"pos"},"transform":[{"filter":"datum.p=='b'"}],"mark":{"type":"line","interpolate":"cardinal-closed"},"encoding":{"x":{"field":"x","type":"quantitative","axis":null},"y":{"field":"y","type":"quantitative","axis":null},"color":{"field":"l","type":"nominal","scale":{"domain":["+0.3","+0.2","+0.1"],"range":["#17703c","#1badE5","#3b1587"]},"legend":{"title":null,"orient":"none","legendX":530,"legendY":5.4,"direction":"vertical","padding":0,"symbolType":"stroke","symbolSize":1100,"symbolStrokeWidth":3.5,"labelFontSize":14,"labelColor":"#222","labelOffset":14,"rowPadding":-5,"encode":{"symbols":{"update":{"strokeWidth":{"signal":"datum.value=='+0.1' ? 4.5 : datum.value=='+0.2' ? 3.6 : 2.2"}}}}}},"detail":{"field":"k"},"order":{"value":null},"strokeWidth":{"condition":[{"test":"datum.l=='+0.1'","value":4.5},{"test":"datum.l=='+0.2'","value":3.6}],"value":2}}},
{"data":{"name":"neg"},"transform":[{"filter":"datum.p=='b'"}],"mark":{"type":"line","interpolate":"cardinal-closed"},"encoding":{"x":{"field":"x","type":"quantitative","axis":null},"y":{"field":"y","type":"quantitative","axis":null},"stroke":{"field":"l","type":"nominal","scale":{"domain":["0.0","-0.1","-0.2","-0.3"],"range":["#9a9a9a","#e4135b","#8d1b8b","#1e1e1e"]},"legend":{"title":null,"orient":"none","legendX":533,"legendY":147,"direction":"vertical","padding":0,"symbolType":"stroke","symbolSize":1100,"symbolStrokeWidth":3.5,"labelFontSize":14,"labelColor":"#222","labelOffset":14,"rowPadding":-5,"encode":{"symbols":{"update":{"strokeWidth":{"signal":"datum.value=='-0.1' ? 4.5 : datum.value=='-0.2' ? 3 : datum.value=='0.0' ? 1.5 : 2.2"}}}}}},"detail":{"field":"k"},"order":{"value":null},"strokeWidth":{"condition":[{"test":"datum.l=='-0.1'","value":4.5},{"test":"datum.l=='-0.2'","value":3}],"value":2}}},
{"data":{"values":[{}]},"mark":{"type":"text","align":"right","baseline":"middle","fontSize":20,"color":"#222"},"encoding":{"x":{"datum":4.8,"type":"quantitative","axis":null},"y":{"datum":3.11,"type":"quantitative","axis":null},"text":{"value":"R=3.0 a.u."}}},
{"data":{"values":[{}]},"mark":{"type":"text","align":"left","baseline":"middle","fontSize":21,"color":"#222"},"encoding":{"x":{"datum":-4.68,"type":"quantitative","axis":null},"y":{"datum":-3.44,"type":"quantitative","axis":null},"text":{"value":"b"}}}
],"resolve":{"axis":{"x":"independent","y":"independent"}}},
{"width":290,"height":212,"layer":[
{"data":{"values":[{}]},"mark":{"type":"rule","color":"#9a9a9a","strokeWidth":1.5},"encoding":{"x":{"datum":-4.37,"type":"quantitative","scale":{"domain":[-5,5],"nice":false,"zero":false},"axis":{"orient":"bottom","title":null,"values":[-4.5,-4,-3.5,-3,-2.5,-2,-1.5,-1,-0.5,0,0.5,1,1.5,2,2.5,3,3.5,4,4.5],"tickSize":{"condition":{"test":"datum.value % 1 == 0","value":-5},"value":-3},"labels":false}},"x2":{"datum":4.37},"y":{"datum":0,"type":"quantitative","scale":{"domain":[-3.9,3.9],"nice":false,"zero":false},"axis":{"orient":"left","title":null,"values":[-3.5,-3,-2.5,-2,-1.5,-1,-0.5,0,0.5,1,1.5,2,2.5,3,3.5],"tickSize":{"condition":{"test":"datum.value % 1 == 0","value":-5},"value":-3},"labels":false}}}},
{"data":{"values":[{}]},"mark":{"type":"rule","color":"#9a9a9a","strokeWidth":1.5},"encoding":{"x":{"datum":0,"type":"quantitative","axis":{"orient":"top","title":null,"values":[-4.5,-4,-3.5,-3,-2.5,-2,-1.5,-1,-0.5,0,0.5,1,1.5,2,2.5,3,3.5,4,4.5],"tickSize":{"condition":{"test":"datum.value % 1 == 0","value":-5},"value":-3},"labels":false}},"y":{"datum":3.55,"type":"quantitative","axis":{"orient":"right","title":null,"values":[-3.5,-3,-2.5,-2,-1.5,-1,-0.5,0,0.5,1,1.5,2,2.5,3,3.5],"tickSize":{"condition":{"test":"datum.value % 1 == 0","value":-5},"value":-3},"labels":false}},"y2":{"datum":-3.55}}},
{"data":{"name":"pos"},"transform":[{"filter":"datum.p=='e'"}],"mark":{"type":"line","interpolate":"cardinal-closed"},"encoding":{"x":{"field":"x","type":"quantitative","axis":null},"y":{"field":"y","type":"quantitative","axis":null},"color":{"field":"l","type":"nominal","scale":{"domain":["+0.3","+0.2","+0.1"],"range":["#17703c","#1badE5","#3b1587"]},"legend":{"title":null,"orient":"none","legendX":530,"legendY":5.4,"direction":"vertical","padding":0,"symbolType":"stroke","symbolSize":1100,"symbolStrokeWidth":3.5,"labelFontSize":14,"labelColor":"#222","labelOffset":14,"rowPadding":-5,"encode":{"symbols":{"update":{"strokeWidth":{"signal":"datum.value=='+0.1' ? 4.5 : datum.value=='+0.2' ? 3.6 : 2.2"}}}}}},"detail":{"field":"k"},"order":{"value":null},"strokeWidth":{"condition":[{"test":"datum.l=='+0.1'","value":4.5},{"test":"datum.l=='+0.2'","value":3.6}],"value":2}}},
{"data":{"name":"neg"},"transform":[{"filter":"datum.p=='e'"}],"mark":{"type":"line","interpolate":"cardinal-closed"},"encoding":{"x":{"field":"x","type":"quantitative","axis":null},"y":{"field":"y","type":"quantitative","axis":null},"stroke":{"field":"l","type":"nominal","scale":{"domain":["0.0","-0.1","-0.2","-0.3"],"range":["#9a9a9a","#e4135b","#8d1b8b","#1e1e1e"]},"legend":{"title":null,"orient":"none","legendX":533,"legendY":147,"direction":"vertical","padding":0,"symbolType":"stroke","symbolSize":1100,"symbolStrokeWidth":3.5,"labelFontSize":14,"labelColor":"#222","labelOffset":14,"rowPadding":-5,"encode":{"symbols":{"update":{"strokeWidth":{"signal":"datum.value=='-0.1' ? 4.5 : datum.value=='-0.2' ? 3 : datum.value=='0.0' ? 1.5 : 2.2"}}}}}},"detail":{"field":"k"},"order":{"value":null},"strokeWidth":{"condition":[{"test":"datum.l=='-0.1'","value":4.5},{"test":"datum.l=='-0.2'","value":3}],"value":2}}},
{"data":{"values":[{}]},"mark":{"type":"text","align":"left","baseline":"middle","fontSize":21,"color":"#222"},"encoding":{"x":{"datum":-4.65,"type":"quantitative","axis":null},"y":{"datum":-3.42,"type":"quantitative","axis":null},"text":{"value":"e"}}}
],"resolve":{"axis":{"x":"independent","y":"independent"}}},
{"width":292,"height":212,"layer":[
{"data":{"values":[{}]},"mark":{"type":"rule","color":"#9a9a9a","strokeWidth":1.5},"encoding":{"x":{"datum":-4.37,"type":"quantitative","scale":{"domain":[-5,5],"nice":false,"zero":false},"axis":{"orient":"bottom","title":null,"values":[-4.5,-4,-3.5,-3,-2.5,-2,-1.5,-1,-0.5,0,0.5,1,1.5,2,2.5,3,3.5,4,4.5],"tickSize":{"condition":{"test":"datum.value % 1 == 0","value":-5},"value":-3},"labelExpr":"datum.value % 1 == 0 ? (datum.value < 0 ? '-' + abs(datum.value) : '' + datum.value) : ''","labelPadding":12.5}},"x2":{"datum":4.37},"y":{"datum":0,"type":"quantitative","scale":{"domain":[-3.9,3.9],"nice":false,"zero":false},"axis":{"orient":"left","title":null,"values":[-3.5,-3,-2.5,-2,-1.5,-1,-0.5,0,0.5,1,1.5,2,2.5,3,3.5],"tickSize":{"condition":{"test":"datum.value % 1 == 0","value":-5},"value":-3},"labelExpr":"datum.value % 1 == 0 ? (datum.value < 0 ? '-' + abs(datum.value) : '' + datum.value) : ''","labelPadding":11}}}},
{"data":{"values":[{}]},"mark":{"type":"rule","color":"#9a9a9a","strokeWidth":1.5},"encoding":{"x":{"datum":0,"type":"quantitative","axis":{"orient":"top","title":null,"values":[-4.5,-4,-3.5,-3,-2.5,-2,-1.5,-1,-0.5,0,0.5,1,1.5,2,2.5,3,3.5,4,4.5],"tickSize":{"condition":{"test":"datum.value % 1 == 0","value":-5},"value":-3},"labels":false}},"y":{"datum":3.55,"type":"quantitative","axis":{"orient":"right","title":null,"values":[-3.5,-3,-2.5,-2,-1.5,-1,-0.5,0,0.5,1,1.5,2,2.5,3,3.5],"tickSize":{"condition":{"test":"datum.value % 1 == 0","value":-5},"value":-3},"labels":false}},"y2":{"datum":-3.55}}},
{"data":{"name":"pos"},"transform":[{"filter":"datum.p=='c'"}],"mark":{"type":"line","interpolate":"cardinal-closed"},"encoding":{"x":{"field":"x","type":"quantitative","axis":null},"y":{"field":"y","type":"quantitative","axis":null},"color":{"field":"l","type":"nominal","scale":{"domain":["+0.3","+0.2","+0.1"],"range":["#17703c","#1badE5","#3b1587"]},"legend":{"title":null,"orient":"none","legendX":530,"legendY":5.4,"direction":"vertical","padding":0,"symbolType":"stroke","symbolSize":1100,"symbolStrokeWidth":3.5,"labelFontSize":14,"labelColor":"#222","labelOffset":14,"rowPadding":-5,"encode":{"symbols":{"update":{"strokeWidth":{"signal":"datum.value=='+0.1' ? 4.5 : datum.value=='+0.2' ? 3.6 : 2.2"}}}}}},"detail":{"field":"k"},"order":{"value":null},"strokeWidth":{"condition":[{"test":"datum.l=='+0.1'","value":4.5},{"test":"datum.l=='+0.2'","value":3.6}],"value":2}}},
{"data":{"name":"neg"},"transform":[{"filter":"datum.p=='c'"}],"mark":{"type":"line","interpolate":"cardinal-closed"},"encoding":{"x":{"field":"x","type":"quantitative","axis":null},"y":{"field":"y","type":"quantitative","axis":null},"stroke":{"field":"l","type":"nominal","scale":{"domain":["0.0","-0.1","-0.2","-0.3"],"range":["#9a9a9a","#e4135b","#8d1b8b","#1e1e1e"]},"legend":{"title":null,"orient":"none","legendX":533,"legendY":147,"direction":"vertical","padding":0,"symbolType":"stroke","symbolSize":1100,"symbolStrokeWidth":3.5,"labelFontSize":14,"labelColor":"#222","labelOffset":14,"rowPadding":-5,"encode":{"symbols":{"update":{"strokeWidth":{"signal":"datum.value=='-0.1' ? 4.5 : datum.value=='-0.2' ? 3 : datum.value=='0.0' ? 1.5 : 2.2"}}}}}},"detail":{"field":"k"},"order":{"value":null},"strokeWidth":{"condition":[{"test":"datum.l=='-0.1'","value":4.5},{"test":"datum.l=='-0.2'","value":3}],"value":2}}},
{"data":{"values":[{}]},"mark":{"type":"text","align":"right","baseline":"middle","fontSize":20,"color":"#222"},"encoding":{"x":{"datum":4.8,"type":"quantitative","axis":null},"y":{"datum":3.10,"type":"quantitative","axis":null},"text":{"value":"R=4.0 a.u."}}},
{"data":{"values":[{}]},"mark":{"type":"text","align":"left","baseline":"middle","fontSize":21,"color":"#222"},"encoding":{"x":{"datum":-4.66,"type":"quantitative","axis":null},"y":{"datum":-3.42,"type":"quantitative","axis":null},"text":{"value":"c"}}}
],"resolve":{"axis":{"x":"independent","y":"independent"}}},
{"width":290,"height":212,"layer":[
{"data":{"values":[{}]},"mark":{"type":"rule","color":"#9a9a9a","strokeWidth":1.5},"encoding":{"x":{"datum":-4.37,"type":"quantitative","scale":{"domain":[-5,5],"nice":false,"zero":false},"axis":{"orient":"bottom","title":null,"values":[-4.5,-4,-3.5,-3,-2.5,-2,-1.5,-1,-0.5,0,0.5,1,1.5,2,2.5,3,3.5,4,4.5],"tickSize":{"condition":{"test":"datum.value % 1 == 0","value":-5},"value":-3},"labelExpr":"datum.value % 1 == 0 ? (datum.value < 0 ? '-' + abs(datum.value) : '' + datum.value) : ''","labelPadding":12.5}},"x2":{"datum":4.37},"y":{"datum":0,"type":"quantitative","scale":{"domain":[-3.9,3.9],"nice":false,"zero":false},"axis":{"orient":"left","title":null,"values":[-3.5,-3,-2.5,-2,-1.5,-1,-0.5,0,0.5,1,1.5,2,2.5,3,3.5],"tickSize":{"condition":{"test":"datum.value % 1 == 0","value":-5},"value":-3},"labels":false}}}},
{"data":{"values":[{}]},"mark":{"type":"rule","color":"#9a9a9a","strokeWidth":1.5},"encoding":{"x":{"datum":0,"type":"quantitative","axis":{"orient":"top","title":null,"values":[-4.5,-4,-3.5,-3,-2.5,-2,-1.5,-1,-0.5,0,0.5,1,1.5,2,2.5,3,3.5,4,4.5],"tickSize":{"condition":{"test":"datum.value % 1 == 0","value":-5},"value":-3},"labels":false}},"y":{"datum":3.55,"type":"quantitative","axis":{"orient":"right","title":null,"values":[-3.5,-3,-2.5,-2,-1.5,-1,-0.5,0,0.5,1,1.5,2,2.5,3,3.5],"tickSize":{"condition":{"test":"datum.value % 1 == 0","value":-5},"value":-3},"labels":false}},"y2":{"datum":-3.55}}},
{"data":{"name":"pos"},"transform":[{"filter":"datum.p=='f'"}],"mark":{"type":"line","interpolate":"cardinal-closed"},"encoding":{"x":{"field":"x","type":"quantitative","axis":null},"y":{"field":"y","type":"quantitative","axis":null},"color":{"field":"l","type":"nominal","scale":{"domain":["+0.3","+0.2","+0.1"],"range":["#17703c","#1badE5","#3b1587"]},"legend":{"title":null,"orient":"none","legendX":530,"legendY":5.4,"direction":"vertical","padding":0,"symbolType":"stroke","symbolSize":1100,"symbolStrokeWidth":3.5,"labelFontSize":14,"labelColor":"#222","labelOffset":14,"rowPadding":-5,"encode":{"symbols":{"update":{"strokeWidth":{"signal":"datum.value=='+0.1' ? 4.5 : datum.value=='+0.2' ? 3.6 : 2.2"}}}}}},"detail":{"field":"k"},"order":{"value":null},"strokeWidth":{"condition":[{"test":"datum.l=='+0.1'","value":4.5},{"test":"datum.l=='+0.2'","value":3.6}],"value":2}}},
{"data":{"name":"neg"},"transform":[{"filter":"datum.p=='f'"}],"mark":{"type":"line","interpolate":"cardinal-closed"},"encoding":{"x":{"field":"x","type":"quantitative","axis":null},"y":{"field":"y","type":"quantitative","axis":null},"stroke":{"field":"l","type":"nominal","scale":{"domain":["0.0","-0.1","-0.2","-0.3"],"range":["#9a9a9a","#e4135b","#8d1b8b","#1e1e1e"]},"legend":{"title":null,"orient":"none","legendX":533,"legendY":147,"direction":"vertical","padding":0,"symbolType":"stroke","symbolSize":1100,"symbolStrokeWidth":3.5,"labelFontSize":14,"labelColor":"#222","labelOffset":14,"rowPadding":-5,"encode":{"symbols":{"update":{"strokeWidth":{"signal":"datum.value=='-0.1' ? 4.5 : datum.value=='-0.2' ? 3 : datum.value=='0.0' ? 1.5 : 2.2"}}}}}},"detail":{"field":"k"},"order":{"value":null},"strokeWidth":{"condition":[{"test":"datum.l=='-0.1'","value":4.5},{"test":"datum.l=='-0.2'","value":3}],"value":2}}},
{"data":{"values":[{}]},"mark":{"type":"text","align":"left","baseline":"middle","fontSize":21,"color":"#222"},"encoding":{"x":{"datum":-4.67,"type":"quantitative","axis":null},"y":{"datum":-3.42,"type":"quantitative","axis":null},"text":{"value":"f"}}}
],"resolve":{"axis":{"x":"independent","y":"independent"}}}
],
"config":{
"font":"Liberation Sans",
"view":{"stroke":null},
"axis":{"grid":false,"domainColor":"#333","domainWidth":1.2,"tickColor":"#333","tickWidth":1,"labelFontSize":16,"labelColor":"#222","labelFlush":false,"labelOverlap":false}
}
}
